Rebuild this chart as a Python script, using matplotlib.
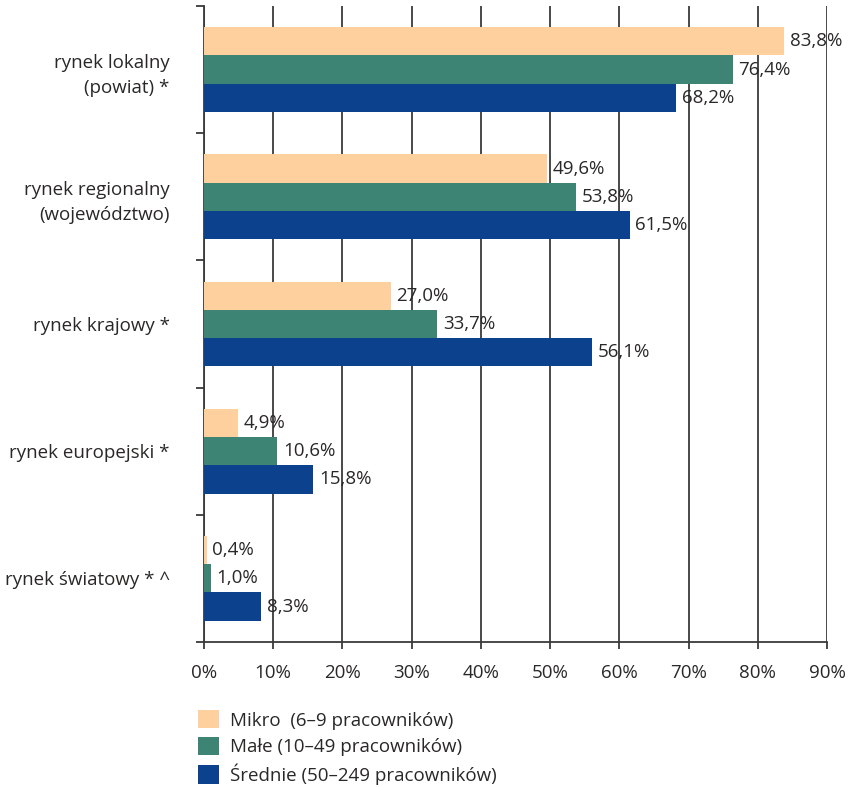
import matplotlib
matplotlib.use("Agg")
import matplotlib.pyplot as plt
from matplotlib.patches import Patch
import numpy as np

# market reach by company size (% of firms)
categories = [
    "rynek lokalny\n(powiat) *",
    "rynek regionalny\n(województwo)",
    "rynek krajowy *",
    "rynek europejski *",
    "rynek światowy * ^",
]
series_names = [
    "Mikro  (6–9 pracowników)",
    "Małe (10–49 pracowników)",
    "Średnie (50–249 pracowników)",
]
mikro = [83.8, 49.6, 27.0, 4.9, 0.4]
male = [76.4, 53.8, 33.7, 10.6, 1.0]
srednie = [68.2, 61.5, 56.1, 15.8, 8.3]
x_ticks = list(range(0, 100, 10))

colors = ["#FDD09E", "#3D8474", "#0B418D"]
text_color = "#2a2727"
grid_color = "#3a3a3a"

plt.rcParams["font.family"] = ["Open Sans", "DejaVu Sans"]
plt.rcParams["font.size"] = 13.5
plt.rcParams["text.color"] = text_color

fig = plt.figure(figsize=(8.53, 7.87), dpi=100)
ax = fig.add_axes([0.239, 0.1843, 0.7305, 0.8081])

y = np.arange(len(categories))
h = 0.222
for k, (vals, col) in enumerate(zip([mikro, male, srednie], colors)):
    pos = y + (k - 1) * h
    ax.barh(pos, vals, height=h, color=col, zorder=3)
    for p, v in zip(pos, vals):
        ax.annotate(f"{v:.1f}%".replace(".", ","), (v, p),
                    xytext=(4, 0), textcoords="offset points",
                    va="center", ha="left", color=text_color, zorder=4)

ax.set_xlim(0, 90)
ax.set_ylim(len(categories) - 0.5, -0.5)

ax.set_xticks(x_ticks)
ax.set_xticklabels([f"{t}%" for t in x_ticks])
ax.xaxis.grid(True, color=grid_color, linewidth=1.3, zorder=0)
ax.set_axisbelow(True)

# category boundaries get ticks, labels sit in the middle
ax.set_yticks(np.arange(-0.5, len(categories), 1.0))
ax.set_yticklabels([])
ax.set_yticks(y, minor=True)
ax.set_yticklabels(categories, minor=True, ha="right", linespacing=1.5)
ax.tick_params(axis="y", which="major", length=6, width=1.3, color=grid_color, direction="out")
ax.tick_params(axis="y", which="minor", length=0, pad=24.5, labelcolor=text_color)
ax.tick_params(axis="x", length=5, width=1.3, color=grid_color, pad=11, labelcolor=text_color)

for s in ["top", "right"]:
    ax.spines[s].set_visible(False)
for s in ["left", "bottom"]:
    ax.spines[s].set_color(grid_color)
    ax.spines[s].set_linewidth(1.3)

handles = [Patch(facecolor=c, edgecolor="none") for c in colors]
fig.legend(handles, series_names, loc="upper left", bbox_to_anchor=(0.232, 0.098),
           frameon=False, handlelength=1.15, handleheight=1.15, handletextpad=0.55,
           labelspacing=0.38, borderaxespad=0, borderpad=0)

fig.savefig("out.png", dpi=100)
